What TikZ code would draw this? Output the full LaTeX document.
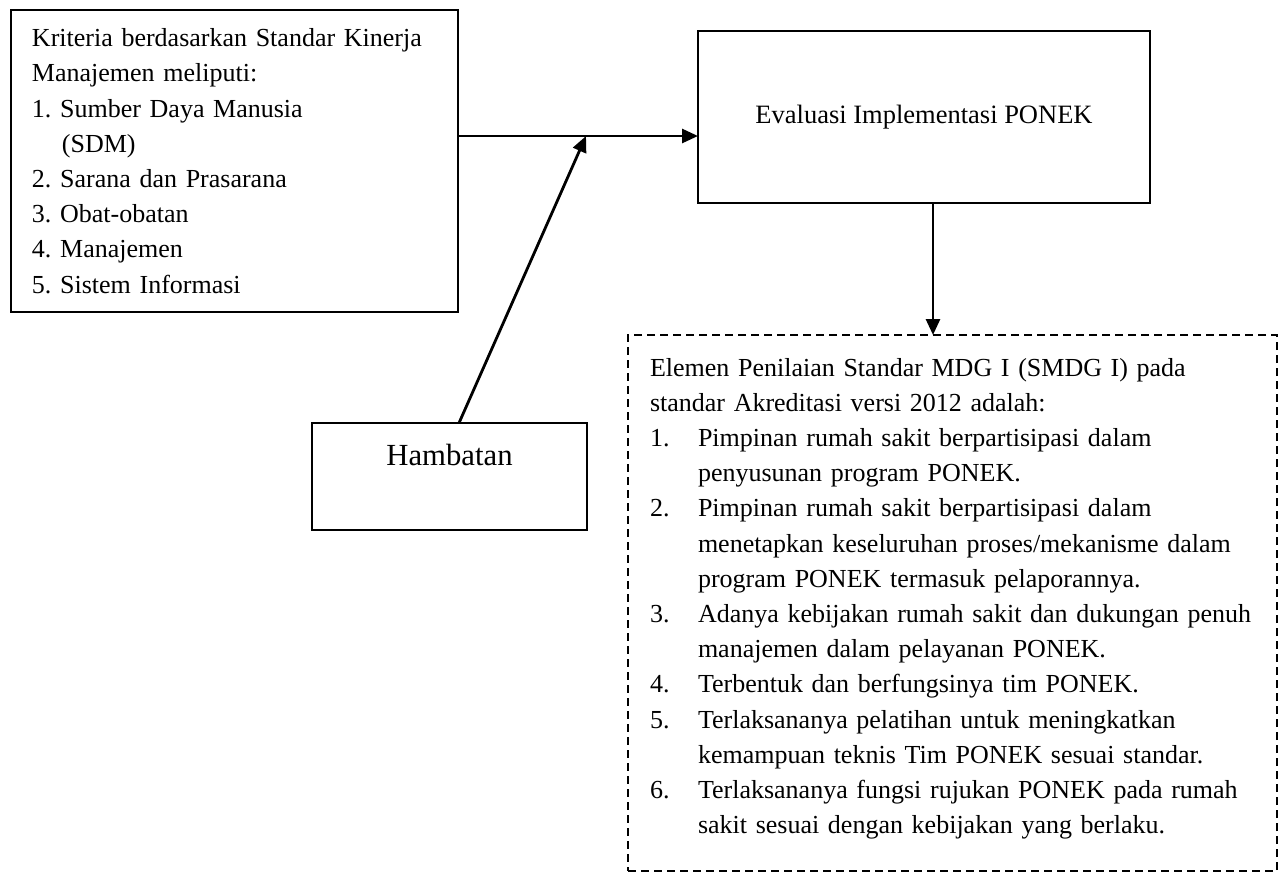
\documentclass[tikz,border=0pt]{standalone}
\usepackage{fontspec}
\setmainfont{Liberation Serif}
\usetikzlibrary{arrows.meta}
\frenchspacing

\newcommand{\butir}[2]{\mbox{\makebox[24pt][l]{#1.}#2}}
\newcommand{\lanjut}[1]{\mbox{\hspace*{24pt}#1}}

\begin{document}
\begin{tikzpicture}[x=0.5pt, y=-0.5pt, >={Triangle[length=8pt, width=7pt]},
        kotak/.style={draw, line width=1pt, outer sep=0pt, anchor=north west},
        isi/.style={font=\fontsize{13}{17.6}\selectfont, align=left},
        panah/.style={->, line width=1.4pt}]
            \useasboundingbox (0,0) rectangle (1284,873);
            \node[kotak, isi, text width=202.5pt, inner xsep=10.5pt, minimum height=151pt] (kriteria) at (11,10)
                {Kriteria berdasarkan Standar Kinerja\\ Manajemen meliputi:\\ 1. Sumber Daya Manusia\\ \hspace*{15pt}(SDM)\\
                 2. Sarana dan Prasarana\\ 3. Obat-obatan\\ 4. Manajemen\\ 5. Sistem Informasi};
            \node[kotak, font=\fontsize{13.25}{17.6}\selectfont, minimum width=226pt, minimum height=86pt] (evaluasi) at (698,31)
                {Evaluasi Implementasi PONEK};
            \node[kotak, font=\fontsize{15.35}{21.5}\selectfont, align=center, minimum width=137.5pt, minimum height=53.5pt] (hambatan) at (312,423)
                {Hambatan\\ \mbox{}};
            \node[kotak, isi, dash pattern=on 4pt off 2.5pt, line width=0.8pt, text width=302.5pt, inner xsep=11pt, minimum height=268pt] (elemen) at (628,335)
                {Elemen Penilaian Standar MDG I (SMDG I) pada\\ standar Akreditasi versi 2012 adalah:\\
                 \butir{1}{Pimpinan rumah sakit berpartisipasi dalam}\\ \lanjut{penyusunan program PONEK.}\\
                 \butir{2}{Pimpinan rumah sakit berpartisipasi dalam}\\ \lanjut{menetapkan keseluruhan proses/mekanisme dalam}\\ \lanjut{program PONEK termasuk pelaporannya.}\\
                 \butir{3}{Adanya kebijakan rumah sakit dan dukungan penuh}\\ \lanjut{manajemen dalam pelayanan PONEK.}\\
                 \butir{4}{Terbentuk dan berfungsinya tim PONEK.}\\
                 \butir{5}{Terlaksananya pelatihan untuk meningkatkan}\\ \lanjut{kemampuan teknis Tim PONEK sesuai standar.}\\
                 \butir{6}{Terlaksananya fungsi rujukan PONEK pada rumah}\\ \lanjut{sakit sesuai dengan kebijakan yang berlaku.}\\[-10.5pt] \mbox{}};
            % arrows
            \coordinate (temu) at (586,136);
            \draw[panah] (kriteria.east |- temu) -- (evaluasi.west |- temu);
            \draw[panah] ([xshift=4.75pt]hambatan.north) -- (temu);
            \draw[panah] ([xshift=4.5pt]evaluasi.south) -- ([xshift=4.5pt]evaluasi.south |- elemen.north);
        \end{tikzpicture}
\end{document}
